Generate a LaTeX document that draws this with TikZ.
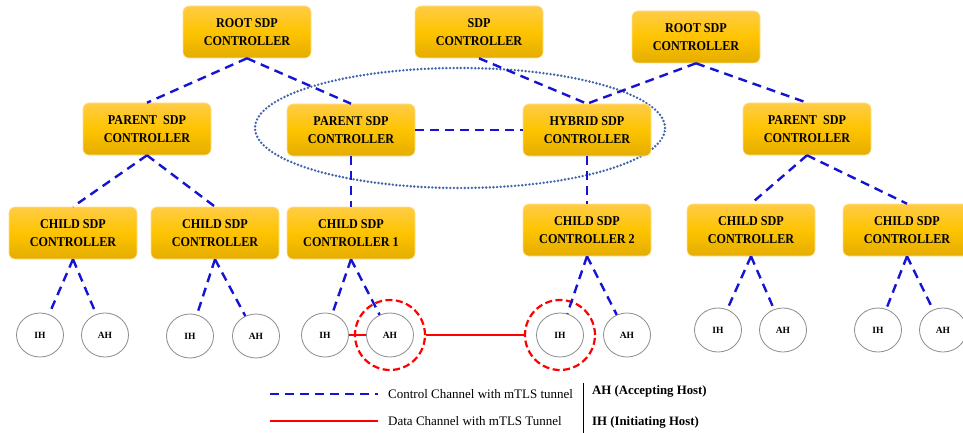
\documentclass[tikz,border=0pt]{standalone}
\usepackage{fontspec}
\setmainfont{Liberation Serif}
\newfontfamily\boxfont[FakeStretch=0.9]{Liberation Serif}
\usetikzlibrary{shapes.geometric}

\definecolor{ctrlblue}{RGB}{20,20,210}
\definecolor{datared}{RGB}{255,0,0}
\definecolor{ovalblue}{RGB}{65,100,170}
\definecolor{goldtop}{RGB}{255,204,70}
\definecolor{goldmid}{RGB}{254,196,0}
\definecolor{goldbot}{RGB}{228,172,0}
\definecolor{hostgray}{RGB}{140,140,140}

\tikzset{
  ctrlbox/.style={rectangle, rounded corners=6pt, minimum width=128pt, minimum height=52pt,
    top color=goldtop, bottom color=goldbot, middle color=goldmid,
    draw=goldtop!60!white, line width=0.6pt, align=center, inner sep=2pt,
    font=\boxfont\bfseries\fontsize{13.5}{17.5}\selectfont},
  host/.style={ellipse, draw=hostgray, line width=0.8pt, fill=white,
    minimum width=47pt, minimum height=44pt, inner sep=0pt,
    font=\bfseries\fontsize{9.5}{10}\selectfont},
  ctrllink/.style={draw=ctrlblue, line width=2.4pt, dash pattern=on 9pt off 6pt},
  datalink/.style={draw=datared, line width=2.2pt},
  ring/.style={circle, draw=datared, line width=2.2pt, dash pattern=on 7pt off 3.5pt,
    minimum size=70pt, inner sep=0pt},
  oval/.style={ellipse, draw=ovalblue, line width=2.7pt, line cap=round,
    dash pattern=on 0pt off 3.6pt, minimum width=410pt, minimum height=120pt},
  legendtext/.style={anchor=west, inner sep=0pt, font=\fontsize{13}{15}\selectfont},
  legendkey/.style={anchor=west, inner sep=0pt, font=\bfseries\fontsize{12.8}{15}\selectfont},
}

\begin{document}
\begin{tikzpicture}[x=1pt, y=-1pt]
\useasboundingbox (0,0) rectangle (963,433);
\clip (0,0) rectangle (963,433);
\fill[white] (0,0) rectangle (963,433);

% cluster of peered controllers
\node[oval] (cluster) at (460,128) {};

% top level
\node[ctrlbox] (root1) at (247,32) {ROOT SDP\\CONTROLLER};
\node[ctrlbox] (sdp)   at (479,32) {SDP\\CONTROLLER};
\node[ctrlbox] (root2) at (696,37) {ROOT SDP\\CONTROLLER};

% parent level
\node[ctrlbox] (par1) at (147,129) {PARENT\ \ SDP\\CONTROLLER};
\node[ctrlbox] (par2) at (351,130) {PARENT SDP\\CONTROLLER};
\node[ctrlbox] (hyb)  at (587,130) {HYBRID SDP\\CONTROLLER};
\node[ctrlbox] (par3) at (807,129) {PARENT\ \ SDP\\CONTROLLER};

% child level
\node[ctrlbox] (ch1) at (73,233)  {CHILD SDP\\CONTROLLER};
\node[ctrlbox] (ch2) at (215,233) {CHILD SDP\\CONTROLLER};
\node[ctrlbox] (ch3) at (351,233) {CHILD SDP\\CONTROLLER 1};
\node[ctrlbox] (ch4) at (587,230) {CHILD SDP\\CONTROLLER 2};
\node[ctrlbox] (ch5) at (751,230) {CHILD SDP\\CONTROLLER};
\node[ctrlbox] (ch6) at (907,230) {CHILD SDP\\CONTROLLER};

% hosts
\node[host] (ih1) at (40,335)  {IH};
\node[host] (ah1) at (105,335) {AH};
\node[host] (ih2) at (190,336) {IH};
\node[host] (ah2) at (256,336) {AH};
\node[host] (ih3) at (325,335) {IH};
\node[host] (ah3) at (390,335) {AH};
\node[host] (ih4) at (560,335) {IH};
\node[host] (ah4) at (627,335) {AH};
\node[host] (ih5) at (718,330) {IH};
\node[host] (ah5) at (783,330) {AH};
\node[host] (ih6) at (878,330) {IH};
\node[host] (ah6) at (943,330) {AH};

% highlighted endpoints of the data tunnel
\node[ring] (ring3) at (390,335) {};
\node[ring] (ring4) at (560,335) {};

% control channels
\draw[ctrllink] (root1.south) -- (par1.north);
\draw[ctrllink] (root1.south) -- (par2.north);
\draw[ctrllink] (sdp.south) -- (hyb.north);
\draw[ctrllink] (root2.south) -- (hyb.north);
\draw[ctrllink] (root2.south) -- (par3.north);
\draw[ctrllink] (par2.east) -- (hyb.west);
\draw[ctrllink] (par1.south) -- (ch1.north);
\draw[ctrllink] (par1.south) -- (ch2.north);
\draw[ctrllink] (par2.south) -- (ch3.north);
\draw[ctrllink] (hyb.south) -- (ch4.north);
\draw[ctrllink] (par3.south) -- (ch5.north);
\draw[ctrllink] (par3.south) -- (ch6.north);
\foreach \c/\i/\a in {ch1/ih1/ah1, ch2/ih2/ah2, ch3/ih3/ah3, ch4/ih4/ah4, ch5/ih5/ah5, ch6/ih6/ah6}{
  \draw[ctrllink] (\c.south) -- (\i);
  \draw[ctrllink] (\c.south) -- (\a);
}

% data channel
\draw[datalink] (ih3.east) -- (ah3.west);
\draw[datalink] (ring3.east) -- (ring4.west);

% legend
\coordinate (k1a) at (270,394);
\coordinate (k1b) at (378,394);
\coordinate (k2a) at (270,421);
\coordinate (k2b) at (378,421);
\draw[ctrllink] (k1a) -- (k1b);
\draw[datalink] (k2a) -- (k2b);
\node[legendtext] (t1) at (388,394) {Control Channel with mTLS tunnel};
\node[legendtext] (t2) at (388,421) {Data Channel with mTLS Tunnel};
\coordinate (bar1) at (583,383);
\coordinate (bar2) at (583,433);
\draw[line width=1pt] (bar1) -- (bar2);
\node[legendkey] (key1) at (592,391) {AH (Accepting Host)};
\node[legendkey] (key2) at (592,422) {IH (Initiating Host)};
\end{tikzpicture}
\end{document}
